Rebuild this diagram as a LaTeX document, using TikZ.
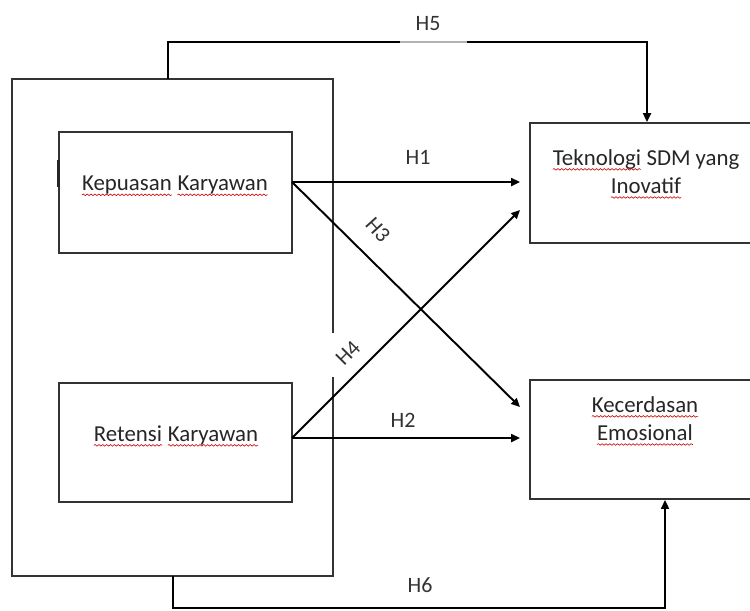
\documentclass[tikz,border=0pt]{standalone}
\usepackage{fontspec}
\setmainfont{Carlito}
\usetikzlibrary{arrows.meta,decorations.pathmorphing}
\newcommand\sq[1]{\begin{tikzpicture}[baseline=(w.base),x=1cm,y=1cm]\node[inner sep=0pt,outer sep=0pt](w){#1};\draw[red!80!black,line width=0.35pt,decorate,decoration={snake,amplitude=0.45pt,segment length=2.2pt}]([yshift=-2.3pt]w.base west)--([yshift=-2.3pt]w.base east);\end{tikzpicture}}
\tikzset{
  boxline/.style={draw=black!80,line width=1pt},
  arr/.style={draw=black,line width=1.1pt,-{Triangle[length=5pt,width=4.5pt]}},
  conn/.style={draw=black,line width=1.1pt},
  txt/.style={inner sep=0pt,text=black!85,font=\fontsize{13}{16}\selectfont,align=center},
  lbl/.style={inner sep=1pt,text=black!80,font=\fontsize{12.5}{15}\selectfont}
}
\begin{document}
\begin{tikzpicture}[x=0.02cm,y=-0.02cm]
\useasboundingbox (0,0) rectangle (750,610);
\clip (0,0) rectangle (750,610);
% outer box corners
\coordinate (otl) at (12,79);
\coordinate (otr) at (333,79);
\coordinate (obl) at (12,576);
\coordinate (obr) at (333,576);
\coordinate (ogap1) at (333,333);
\coordinate (ogap2) at (333,377);
\draw[boxline] (ogap1) -- (otr) -- (otl) -- (obl) -- (obr) -- (ogap2);
% inner boxes
\node[boxline,minimum width=4.66cm,minimum height=2.42cm,inner sep=0pt] (kep) at (175.5,192.5) {};
\node[boxline,minimum width=4.66cm,minimum height=2.38cm,inner sep=0pt] (ret) at (175.5,442.5) {};
\node[boxline,minimum width=4.7cm,minimum height=2.4cm,inner sep=0pt] (tek) at (647.5,183) {};
\node[boxline,minimum width=4.7cm,minimum height=2.38cm,inner sep=0pt] (kec) at (647.5,439.5) {};
\coordinate (tick1) at (58.5,160);
\coordinate (tick2) at (58.5,187);
\draw[black!85,line width=1.6pt] (tick1) -- (tick2);
% texts
\node[txt] (tkep) at (175,186) {\sq{Kepuasan} \sq{Karyawan}};
\node[txt] (tret) at (176,436) {\sq{Retensi} \sq{Karyawan}};
\node[txt] (ttek) at (646,174) {\sq{Teknologi} SDM yang\\\sq{Inovatif}};
\node[txt] (tkec) at (645,421) {\sq{Kecerdasan}\\\sq{Emosional}};
% connector points
\coordinate (k1) at (292,182);
\coordinate (r1) at (292,438);
\coordinate (t1) at (520,182);
\coordinate (t2) at (520,210);
\coordinate (e1) at (520,407);
\coordinate (e2) at (520,438);
\coordinate (h5a) at (168,79);
\coordinate (h5b) at (168,42);
\coordinate (h5c) at (647,42);
\coordinate (h5d) at (647,122);
\coordinate (h6a) at (173,576);
\coordinate (h6b) at (173,608);
\coordinate (h6c) at (665,608);
\coordinate (h6d) at (665,500);
% arrows
\draw[arr] (k1) -- (t1);
\draw[arr] (k1) -- (e1);
\draw[arr] (r1) -- (t2);
\draw[arr] (r1) -- (e2);
\draw[arr] (h5a) -- (h5b) -- (h5c) -- (h5d);
\coordinate (g1) at (400,42);
\coordinate (g2) at (467,42);
\draw[gray!60,line width=1.2pt] (g1) -- (g2);
\draw[arr] (h6a) -- (h6b) -- (h6c) -- (h6d);
% labels
\node[lbl] (H5) at (428,24) {H5};
\node[lbl] (H1) at (418,157) {H1};
\node[lbl,rotate=-48] (H3) at (378,230) {H3};
\node[lbl,rotate=45] (H4) at (348,353) {H4};
\node[lbl] (H2) at (403,420) {H2};
\node[lbl] (H6) at (420,585) {H6};
\end{tikzpicture}
\end{document}
